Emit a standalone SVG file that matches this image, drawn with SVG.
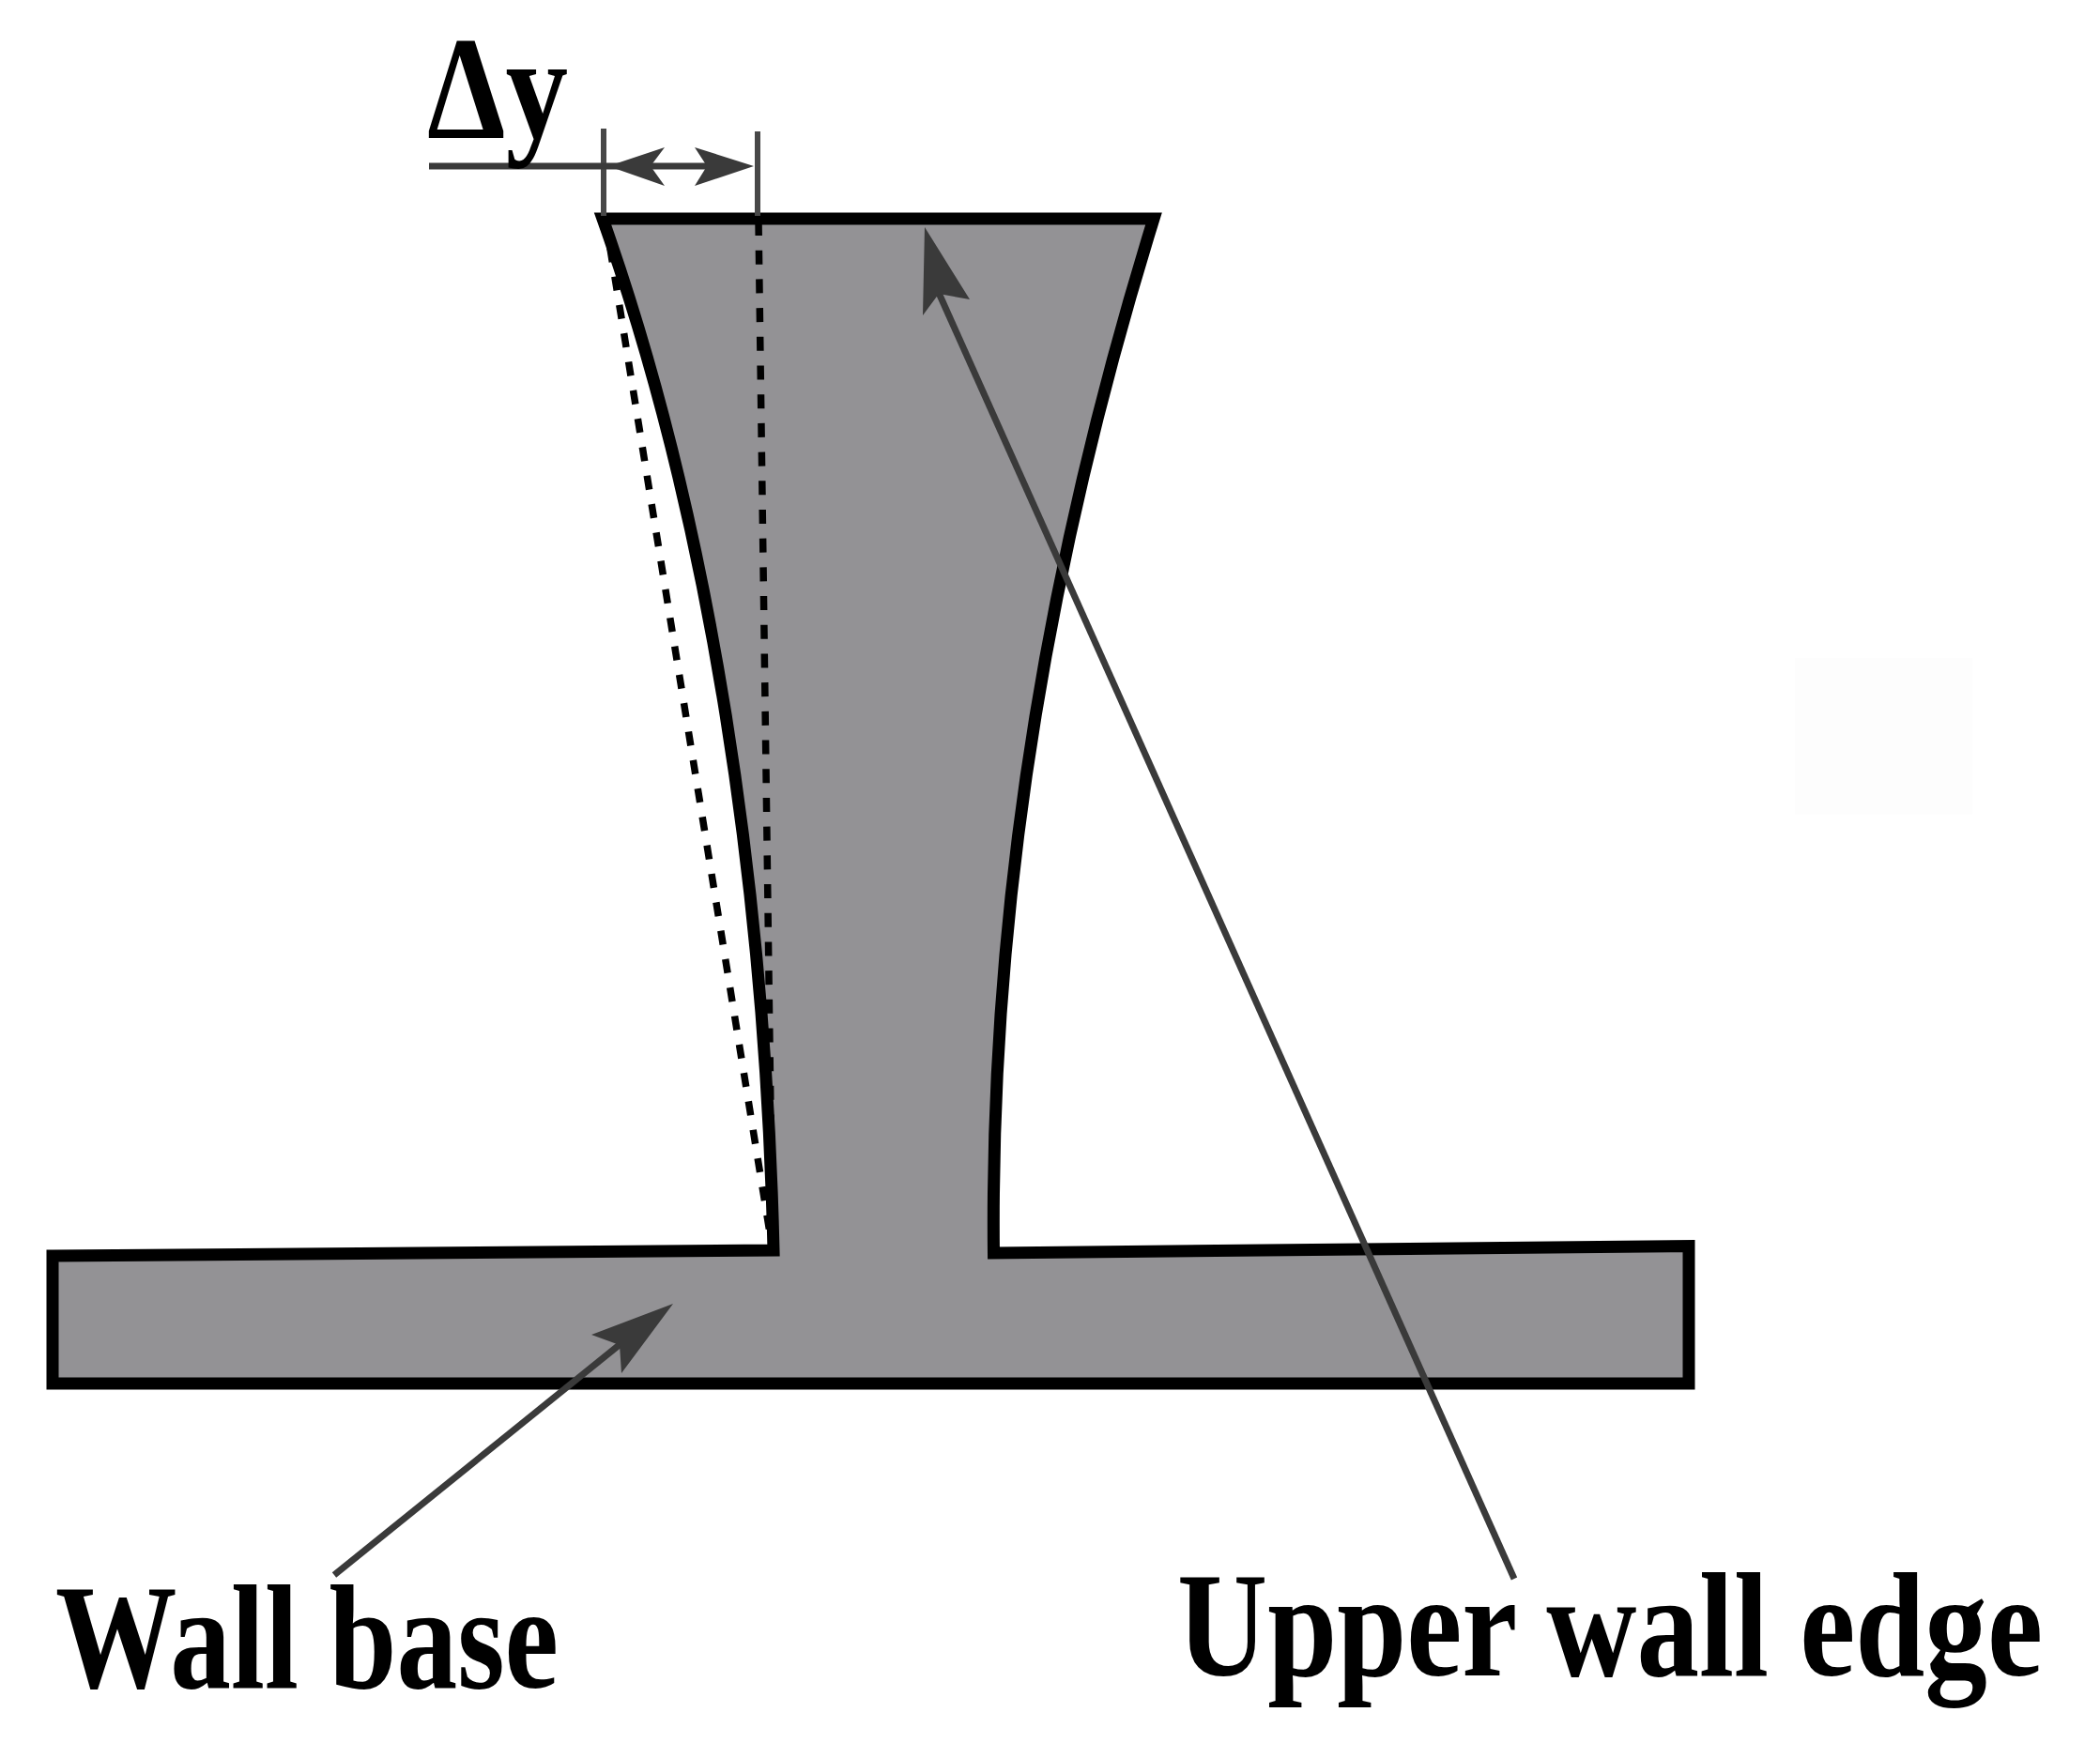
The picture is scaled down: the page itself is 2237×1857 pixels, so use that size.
<svg xmlns="http://www.w3.org/2000/svg" width="2237" height="1857" viewBox="0 0 2237 1857">
<style>
.wall{fill:#939295;stroke:#000;stroke-width:13;stroke-linejoin:miter;stroke-miterlimit:6}
.dash{fill:none;stroke:#000;stroke-width:7.5;stroke-dasharray:15 15.7}
.line{fill:none;stroke:#3a3a3a;stroke-width:7}
.tick{fill:none;stroke:#484848;stroke-width:6}
.head{fill:#3a3a3a;stroke:none}
.lbl{font-family:"Liberation Serif","Times New Roman",serif;font-weight:700;fill:#000;font-size:158px}
</style>
<rect width="2237" height="1857" fill="#fff"/>
<rect x="1912" y="701" width="189" height="167" fill="#fdfdfd"/>
<g id="wall-section">
<path class="wall" d="M56,1338 L824,1332 C815,950 758,560 642,233 L1229,233 C1140,520 1054,900 1058.5,1335 L1799,1327.5 L1799,1474 L56,1474 Z"/>
</g>
<g id="reference-lines">
<path class="dash" d="M645,234 L823,1332"/>
<path class="dash" d="M808,236 L823,1332"/>
</g>
<g id="connectors">
<path class="tick" d="M643,137 L643,230"/>
<path class="tick" d="M807,140 L807,230"/>
<path class="line" d="M457,177 L785,177"/>
<path class="head" d="M648,177 L708,157 L693,177 L708,198 Z"/>
<path class="head" d="M803,177 L740,157 L753,177 L740,198 Z"/>
<path class="line" d="M1613,1682 L1000,312"/>
<path class="head" d="M985,242 L1033,319 L1000,313 L983,336 Z"/>
<path class="line" d="M356,1678 L662,1431"/>
<path class="head" d="M717,1389 L662,1463 L660,1433 L630,1422 Z"/>
</g>
<g id="label-delta-y"><text class="lbl" x="455" y="147" font-size="156" style="font-size:156px" textLength="150" lengthAdjust="spacingAndGlyphs">Δy</text></g>
<g id="label-wall-base"><text class="lbl" x="59" y="1798" textLength="536" lengthAdjust="spacingAndGlyphs">Wall base</text></g>
<g id="label-upper-wall-edge"><text class="lbl" x="1254" y="1785" textLength="922" lengthAdjust="spacingAndGlyphs">Upper wall edge</text></g>
</svg>
